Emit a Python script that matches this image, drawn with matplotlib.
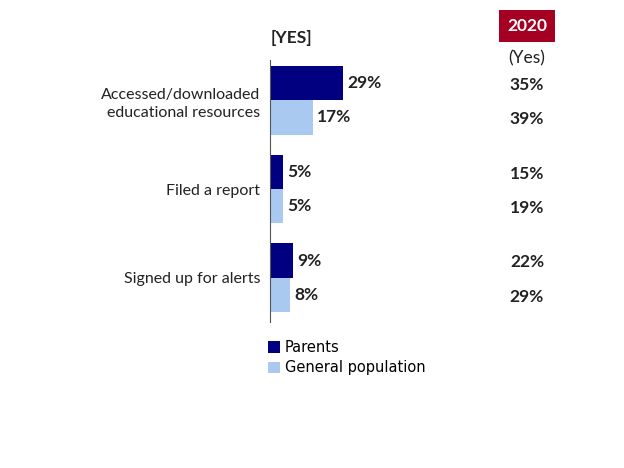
import numpy as np
import matplotlib.pyplot as plt
import matplotlib.transforms as mtransforms

# data
categories = ["Accessed/downloaded\neducational resources", "Filed a report", "Signed up for alerts"]
parents = [29, 5, 9]
general = [17, 5, 8]
prev_parents = [35, 15, 22]
prev_general = [39, 19, 29]
series_names = ["Parents", "General population"]

dark = "#000080"
light = "#A9C9F0"
red = "#A50021"

plt.rcParams['font.family'] = ['Lato', 'DejaVu Sans']

fig = plt.figure(figsize=(6.24, 4.68), dpi=100)
ax = fig.add_axes([270 / 624, 1 - 322 / 468, 250 / 624, 262 / 468])

y = np.arange(len(categories))
h = 0.386
b1 = ax.barh(y - h / 2, parents, height=h, color=dark, label=series_names[0])
b2 = ax.barh(y + h / 2, general, height=h, color=light, label=series_names[1])

ax.set_xlim(0, 100)
ax.set_ylim(2.5, -0.455)

for bars, vals in [(b1, parents), (b2, general)]:
    for rect, v in zip(bars, vals):
        ax.annotate(f"{v}%", (rect.get_width(), rect.get_y() + rect.get_height() / 2),
                    xytext=(3.5, 0), textcoords="offset points", va="center", ha="left",
                    fontsize=12.5, fontweight="bold", color="#222222")

# previous year column
trans = mtransforms.blended_transform_factory(fig.transFigure, ax.transData)
for i in range(len(categories)):
    ax.text(527 / 624, y[i] - h / 2 + 0.02, f"{prev_parents[i]}%", transform=trans, ha="center", va="center",
            fontsize=12.5, fontweight="bold", color="#222222")
    ax.text(527 / 624, y[i] + h / 2 + 0.02, f"{prev_general[i]}%", transform=trans, ha="center", va="center",
            fontsize=12.5, fontweight="bold", color="#222222")

fig.text(527 / 624, 1 - 26 / 468, "2020", ha="center", va="center", fontsize=12.5, fontweight="bold",
         color="white", bbox=dict(boxstyle="square,pad=0.45", fc=red, ec="none"))
fig.text(527 / 624, 1 - 58 / 468, "(Yes)", ha="center", va="center", fontsize=12.5, color="#222222")
fig.text(271 / 624, 1 - 38 / 468, "[YES]", ha="left", va="center", fontsize=12.5, fontweight="bold",
         color="#222222")

ax.set_yticks(y)
ax.set_yticklabels(categories, fontsize=11.5, color="#222222", ha="right", multialignment="right",
                   linespacing=1.4)
ax.tick_params(axis="y", length=0, pad=7)
ax.set_xticks([])
for s in ["top", "right", "bottom"]:
    ax.spines[s].set_visible(False)
ax.spines["left"].set_color("#555555")

ax.legend(loc="upper left", bbox_to_anchor=(255 / 624, 1 - 327 / 468), bbox_transform=fig.transFigure,
          frameon=False, handlelength=0.8, handleheight=0.8, handletextpad=0.35,
          labelspacing=0.35, prop={'family': 'DejaVu Sans', 'size': 10.5})

fig.savefig("out.png", dpi=100)
